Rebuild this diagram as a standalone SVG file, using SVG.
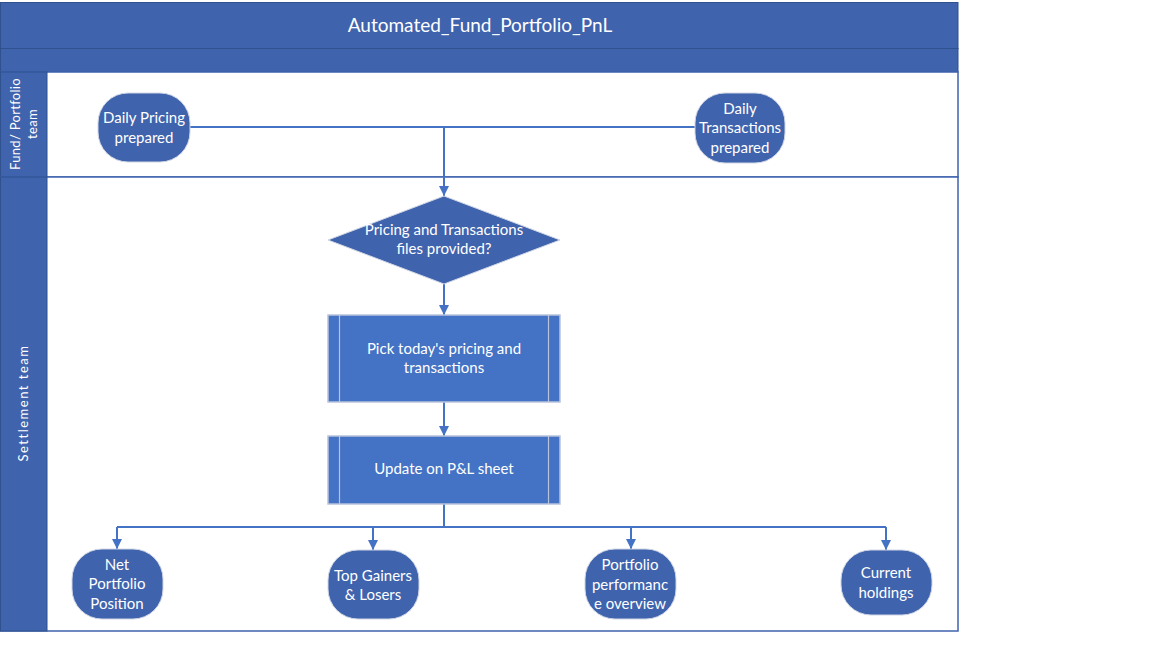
<svg xmlns="http://www.w3.org/2000/svg" width="1152" height="648" viewBox="0 0 1152 648">
<defs>
<style>
.band{fill:#3F63AD;stroke:#2F528F;stroke-width:1}
.lane{fill:#FFFFFF;stroke:#3F63AD;stroke-width:1.5}
.term{fill:#3F63AD;stroke:#D0D6E4;stroke-width:1}
.proc{fill:#4472C4;stroke:#B8C4DC;stroke-width:1.5}
.sub{stroke:#B8C4DC;stroke-width:1.2}
.t{font-family:Lato,"Open Sans","Liberation Sans",sans-serif;fill:#FFFFFF;text-anchor:middle;font-size:15px}
.title{font-size:19px}
.lbl{font-size:13px;letter-spacing:0.3px}
.lbl2{font-size:13px;letter-spacing:1.5px}
.con{fill:none;stroke:#4472C4;stroke-width:2}
</style>
<marker id="arr" viewBox="0 0 10 10" refX="10" refY="5" markerWidth="5" markerHeight="5" orient="auto" markerUnits="strokeWidth">
<path d="M0,0 L10,5 L0,10 z" fill="#4472C4"/>
</marker>
</defs>
<rect width="1152" height="648" fill="#FFFFFF"/>
<g id="pool">
<rect class="band" x="0.5" y="2.5" width="957.5" height="46"/>
<rect class="band" x="0.5" y="48.5" width="957.5" height="23.5"/>
<text class="t title" x="480" y="32">Automated_Fund_Portfolio_PnL</text>
</g>
<g id="lane-fund">
<rect class="lane" x="0.5" y="72" width="957.5" height="105"/>
<rect class="band" x="0.5" y="72" width="46.5" height="105"/>
<text class="t lbl" transform="translate(20,124) rotate(-90)">Fund/ Portfolio</text>
<text class="t lbl" transform="translate(37,124) rotate(-90)">team</text>
</g>
<g id="lane-settlement">
<rect class="lane" x="0.5" y="177" width="957.5" height="454"/>
<rect class="band" x="0.5" y="177" width="46.5" height="454"/>
<text class="t lbl2" transform="translate(28,403) rotate(-90)">Settlement team</text>
</g>
<g id="connectors">
<path class="con" d="M190,127 H444"/>
<path class="con" d="M695,127 H444"/>
<path class="con" d="M444,127 V196" marker-end="url(#arr)"/>
<path class="con" d="M444,284 V315" marker-end="url(#arr)"/>
<path class="con" d="M444,402 V436" marker-end="url(#arr)"/>
<path class="con" d="M444,504 V527 M117,527 H886"/>
<path class="con" d="M117,527 V549" marker-end="url(#arr)"/>
<path class="con" d="M373,527 V550" marker-end="url(#arr)"/>
<path class="con" d="M631,527 V549" marker-end="url(#arr)"/>
<path class="con" d="M886,527 V550" marker-end="url(#arr)"/>
</g>
<g id="daily-pricing">
<rect class="term" x="98" y="93" width="92" height="69" rx="30" ry="30"/>
<text class="t" x="144" y="123">Daily Pricing</text>
<text class="t" x="144" y="143">prepared</text>
</g>
<g id="daily-transactions">
<rect class="term" x="695" y="93" width="90" height="70" rx="30" ry="30"/>
<text class="t" x="740" y="114">Daily</text>
<text class="t" x="740" y="133">Transactions</text>
<text class="t" x="740" y="153">prepared</text>
</g>
<g id="decision">
<polygon class="term" points="444,196 560,240 444,284 328,240" stroke="none"/>
<text class="t" x="444" y="235">Pricing and Transactions</text>
<text class="t" x="444" y="254">files provided?</text>
</g>
<g id="pick">
<rect class="proc" x="328" y="315" width="232" height="87"/>
<line class="sub" x1="339.5" y1="315" x2="339.5" y2="402"/>
<line class="sub" x1="548.5" y1="315" x2="548.5" y2="402"/>
<text class="t" x="444" y="354">Pick today's pricing and</text>
<text class="t" x="444" y="373">transactions</text>
</g>
<g id="update">
<rect class="proc" x="328" y="436" width="232" height="68"/>
<line class="sub" x1="339.5" y1="436" x2="339.5" y2="504"/>
<line class="sub" x1="548.5" y1="436" x2="548.5" y2="504"/>
<text class="t" x="444" y="474">Update on P&amp;L sheet</text>
</g>
<g id="net-portfolio">
<rect class="term" x="72" y="549" width="91" height="70" rx="30" ry="30"/>
<text class="t" x="117" y="570">Net</text>
<text class="t" x="117" y="589">Portfolio</text>
<text class="t" x="117" y="609">Position</text>
</g>
<g id="top-gainers">
<rect class="term" x="328" y="550" width="91" height="69" rx="30" ry="30"/>
<text class="t" x="373" y="581">Top Gainers</text>
<text class="t" x="373" y="600">&amp; Losers</text>
</g>
<g id="portfolio-performance">
<rect class="term" x="585" y="549" width="91" height="70" rx="30" ry="30"/>
<text class="t" x="630" y="570">Portfolio</text>
<text class="t" x="630" y="590">performanc</text>
<text class="t" x="630" y="609">e overview</text>
</g>
<g id="current-holdings">
<rect class="term" x="841" y="550" width="91" height="65" rx="30" ry="30"/>
<text class="t" x="886" y="578">Current</text>
<text class="t" x="886" y="598">holdings</text>
</g>
</svg>
